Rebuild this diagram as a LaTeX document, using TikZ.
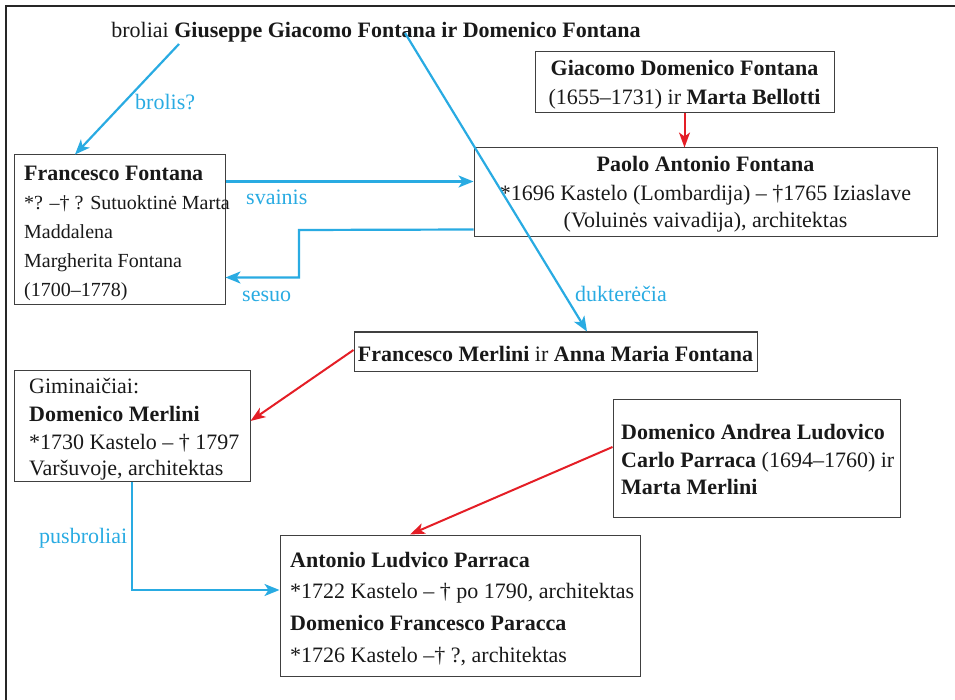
\documentclass[tikz,border=0pt]{standalone}
\usepackage{fontspec}
\setmainfont{Liberation Serif}
\usetikzlibrary{arrows.meta,calc}
\definecolor{cblue}{RGB}{41,171,226}
\definecolor{cred}{RGB}{228,30,38}
\newcommand\myfs{\fontsize{22}{26}\selectfont}
\newcommand\mysm{\fontsize{20}{24}\selectfont}
\begin{document}
\begin{tikzpicture}[x=1pt,y=-1pt,
  box/.style={draw=black!75,line width=1pt,inner sep=0pt},
  tx/.style={anchor=base west,inner sep=0pt,font=\myfs,text=black!90},
  txc/.style={anchor=base,inner sep=0pt,font=\myfs,text=black!90},
  lab/.style={anchor=base west,inner sep=0pt,font=\myfs,text=cblue},
  barr/.style={draw=cblue,line width=2.2pt,-{Stealth[length=15pt,width=12pt,inset=4pt]}},
  rarr/.style={draw=cred,line width=2pt,-{Stealth[length=15pt,width=11pt,inset=4pt]}}]
\useasboundingbox (0,0) rectangle (955,700);
\coordinate (fc) at (6,6);
\draw[line width=1.6pt,black!85] (955,6) -- (fc) -- (6,700);
% boxes
\node[box,minimum width=299pt,minimum height=61pt] (gdf) at (684.5,82.5) {};
\node[box,minimum width=463pt,minimum height=89pt] (paolo) at (705.5,192.5) {};
\node[box,minimum width=211pt,minimum height=150pt] (ff) at (119.5,230) {};
\node[box,minimum width=403pt,minimum height=39pt] (merl) at (555.5,351.5) {};
\node[box,minimum width=236pt,minimum height=111pt] (gim) at (132,425.5) {};
\node[box,minimum width=287pt,minimum height=118pt] (dal) at (756.5,458) {};
\node[box,minimum width=360pt,minimum height=141pt] (alp) at (460,605.5) {};
% texts
\node[txc] (title) at (376,38) {broliai \textbf{Giuseppe Giacomo Fontana ir Domenico Fontana}};
\node[txc] (gdf1) at (684.5,76) {\textbf{Giacomo Domenico Fontana}};
\node[txc] (gdf2) at (684.5,105) {(1655–1731) ir \textbf{Marta Bellotti}};
\node[txc] (pa1) at (705.5,172) {\textbf{Paolo Antonio Fontana}};
\node[txc] (pa2) at (705.5,201) {*1696 Kastelo (Lombardija) – †1765 Iziaslave};
\node[txc] (pa3) at (705.5,228) {(Voluinės vaivadija), architektas};
\node[tx] (ff1) at (24,181) {\textbf{Francesco Fontana}};
\node[tx,font=\mysm] (ff2) at (24,210) {*? –† ? Sutuoktinė Marta};
\node[tx,font=\mysm] (ff3) at (24,239) {Maddalena};
\node[tx,font=\mysm] (ff4) at (24,268) {Margherita Fontana};
\node[tx,font=\mysm] (ff5) at (24,297) {(1700–1778)};
\node[txc] (me1) at (555.5,361) {\textbf{Francesco Merlini} ir \textbf{Anna Maria Fontana}};
\node[tx] (gi1) at (29,393) {Giminaičiai:};
\node[tx] (gi2) at (29,421) {\textbf{Domenico Merlini}};
\node[tx] (gi3) at (29,449) {*1730 Kastelo – † 1797};
\node[tx] (gi4) at (29,475) {Varšuvoje, architektas};
\node[tx] (da1) at (621,439) {\textbf{Domenico Andrea Ludovico}};
\node[tx] (da2) at (621,467) {\textbf{Carlo Parraca} (1694–1760) ir};
\node[tx] (da3) at (621,494) {\textbf{Marta Merlini}};
\node[tx] (al1) at (290,567) {\textbf{Antonio Ludvico Parraca}};
\node[tx] (al2) at (290,598) {*1722 Kastelo – † po 1790, architektas};
\node[tx] (al3) at (290,630) {\textbf{Domenico Francesco Paracca}};
\node[tx] (al4) at (290,662) {*1726 Kastelo –† ?, architektas};
% labels
\node[lab] (lb1) at (135,110) {brolis?};
\node[lab] (lb2) at (246,205) {svainis};
\node[lab] (lb3) at (242,302) {sesuo};
\node[lab] (lb4) at (575,302) {dukterėčia};
\node[lab] (lb5) at (39,543) {pusbroliai};
% connectors
\coordinate (t1) at (179,44);
\coordinate (t2) at (405,33);
\draw[barr] (t1) -- ([xshift=-44.5pt]ff.north);
\draw[barr] (t2) -- ([xshift=31.5pt]merl.north);
\draw[rarr] (gdf.south) -- (gdf.south |- paolo.north);
\coordinate (s1) at ([yshift=-27pt]ff.north east);
\draw[barr] (s1) -- (s1 -| paolo.west);
\coordinate (s2) at ([yshift=-82pt]paolo.north west);
\coordinate (s3) at ([yshift=-123pt]ff.north east);
\coordinate (bend1) at (299,230);
\draw[barr] (s2) -- (bend1) |- (s3);
\draw[rarr] ([yshift=1.5pt]merl.west) -- ([yshift=4.5pt]gim.east);
\draw[rarr] ([yshift=11pt]dal.west) -- ([xshift=-50pt]alp.north);
\draw[barr] (gim.south) |- ([yshift=15.5pt]alp.west);
\end{tikzpicture}
\end{document}
